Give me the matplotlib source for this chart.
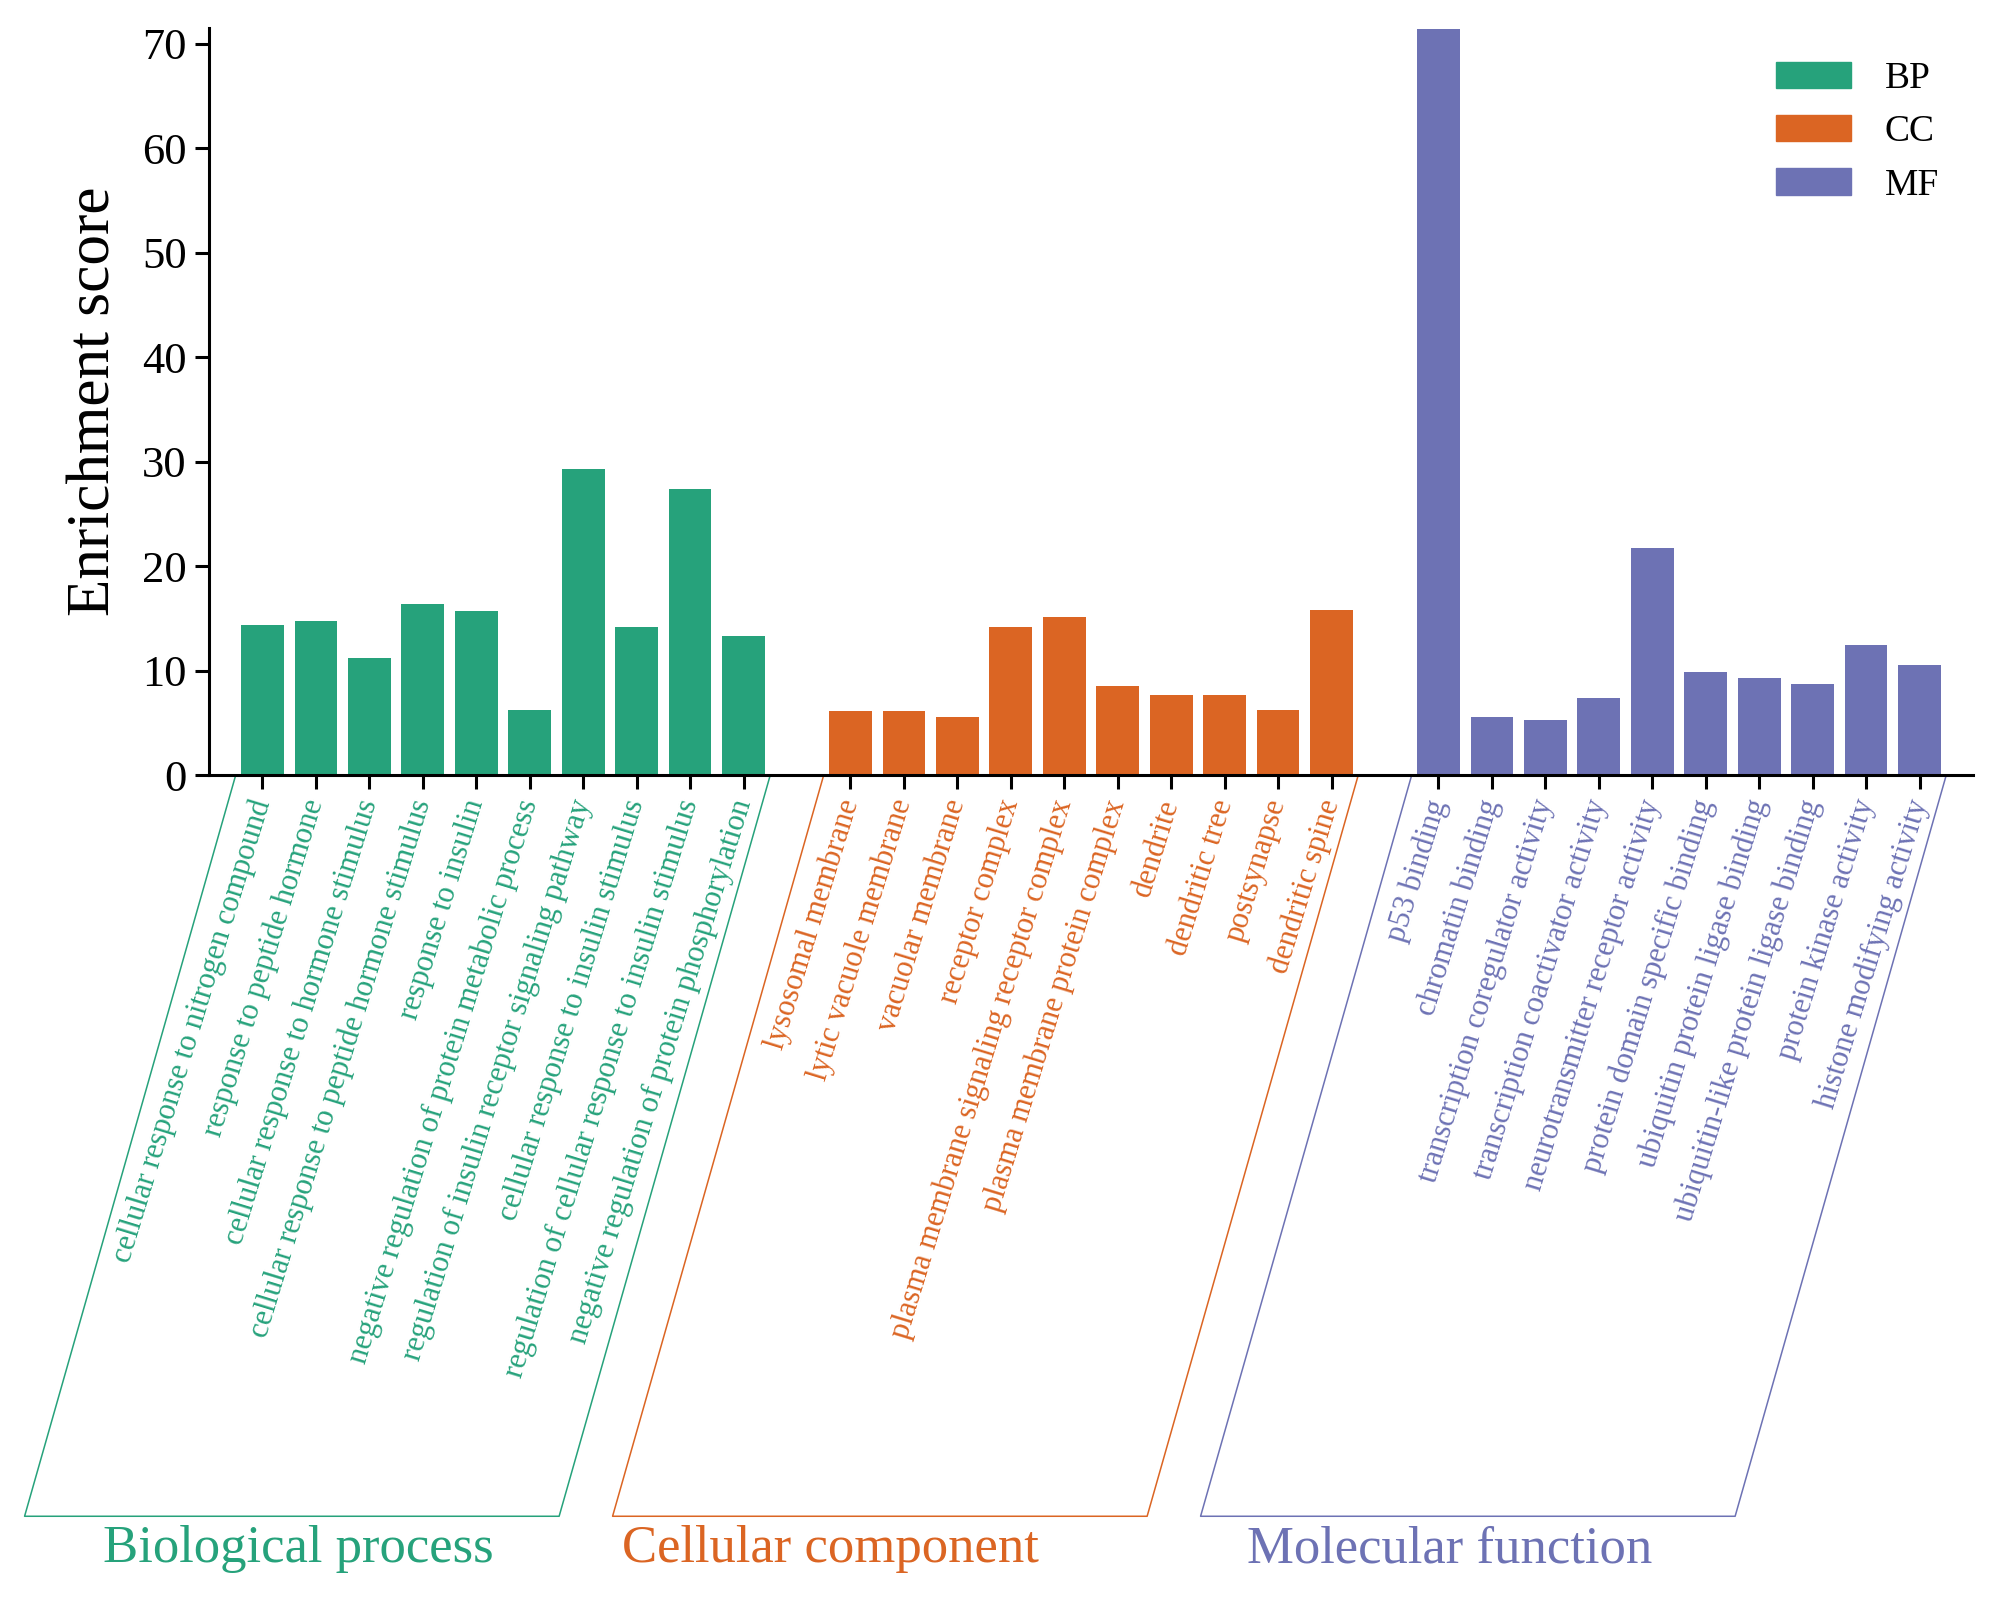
import matplotlib
matplotlib.use("Agg")
import matplotlib.pyplot as plt
from matplotlib.patches import Patch
from matplotlib.lines import Line2D
from matplotlib.transforms import blended_transform_factory

plt.rcParams['font.family'] = ['Liberation Serif', 'DejaVu Serif']

# GO terms and enrichment scores
bp_terms = ["cellular response to nitrogen compound",
            "response to peptide hormone",
            "cellular response to hormone stimulus",
            "cellular response to peptide hormone stimulus",
            "response to insulin",
            "negative regulation of protein metabolic process",
            "regulation of insulin receptor signaling pathway",
            "cellular response to insulin stimulus",
            "regulation of cellular response to insulin stimulus",
            "negative regulation of protein phosphorylation"]
bp_scores = [14.4, 14.7, 11.2, 16.4, 15.7, 6.2, 29.3, 14.2, 27.4, 13.3]

cc_terms = ["lysosomal membrane",
            "lytic vacuole membrane",
            "vacuolar membrane",
            "receptor complex",
            "plasma membrane signaling receptor complex",
            "plasma membrane protein complex",
            "dendrite",
            "dendritic tree",
            "postsynapse",
            "dendritic spine"]
cc_scores = [6.1, 6.1, 5.6, 14.2, 15.1, 8.5, 7.7, 7.7, 6.2, 15.8]

mf_terms = ["p53 binding",
            "chromatin binding",
            "transcription coregulator activity",
            "transcription coactivator activity",
            "neurotransmitter receptor activity",
            "protein domain specific binding",
            "ubiquitin protein ligase binding",
            "ubiquitin-like protein ligase binding",
            "protein kinase activity",
            "histone modifying activity"]
mf_scores = [71.4, 5.6, 5.3, 7.4, 21.7, 9.9, 9.3, 8.7, 12.4, 10.5]

groups = ["BP", "CC", "MF"]
group_names = ["Biological process", "Cellular component", "Molecular function"]
colors = ["#26a27b", "#db6523", "#6d72b4"]
# where the group names sit (data x)
name_x = [0.68, 10.63, 22.2]

fig = plt.figure(figsize=(20, 16), dpi=100)
ax = fig.add_axes([0.1045, 0.5156, 0.882, 0.467])

all_terms = [bp_terms, cc_terms, mf_terms]
all_scores = [bp_scores, cc_scores, mf_scores]

xticks = []
xlabels = []
xcolors = []
start = 0
starts = []
for terms, scores, col, g in zip(all_terms, all_scores, colors, groups):
    xs = [start + i for i in range(len(terms))]
    ax.bar(xs, scores, width=0.8, color=col, label=g)
    xticks += xs
    xlabels += terms
    xcolors += [col] * len(terms)
    starts.append(start)
    start += len(terms) + 1

ax.set_xlim(-1, 32)
ax.set_ylim(0, 71.5)
ax.set_yticks(range(0, 71, 10))
ax.set_xticks(xticks)
ax.set_xticklabels(xlabels, rotation=73, ha='right', va='center',
                   rotation_mode='anchor', fontsize=22)
for lab, c in zip(ax.get_xticklabels(), xcolors):
    lab.set_color(c)

ax.tick_params(axis='both', length=10, width=2.2, direction='out')
ax.tick_params(axis='y', labelsize=32, pad=6)
ax.tick_params(axis='x', pad=8)
for s in ['top', 'right']:
    ax.spines[s].set_visible(False)
for s in ['left', 'bottom']:
    ax.spines[s].set_linewidth(2.2)

ax.set_ylabel("Enrichment score", fontsize=44, labelpad=14)

# slanted brackets under each group
tr = blended_transform_factory(ax.transData, ax.transAxes)
shift = 3.95
ybot = -0.992
for st, col, name, nx in zip(starts, colors, group_names, name_x):
    x0 = st - 0.5
    x1 = st + 9.5
    xsq = [x0, x0 - shift, x1 - shift, x1]
    ysq = [0, ybot, ybot, 0]
    ax.add_line(Line2D(xsq, ysq, transform=tr, color=col, lw=1.1, clip_on=False))
    ax.text(nx, ybot - 0.012, name, transform=tr, color=col,
            fontsize=38, ha='center', va='top')

handles = [Patch(color=c) for c in colors]
ax.legend(handles, groups, loc='upper right', bbox_to_anchor=(1.0, 1.0),
          frameon=False, fontsize=27, handlelength=2.0, handleheight=0.7,
          labelspacing=0.5, handletextpad=0.9)

fig.savefig("out.png", dpi=100)
